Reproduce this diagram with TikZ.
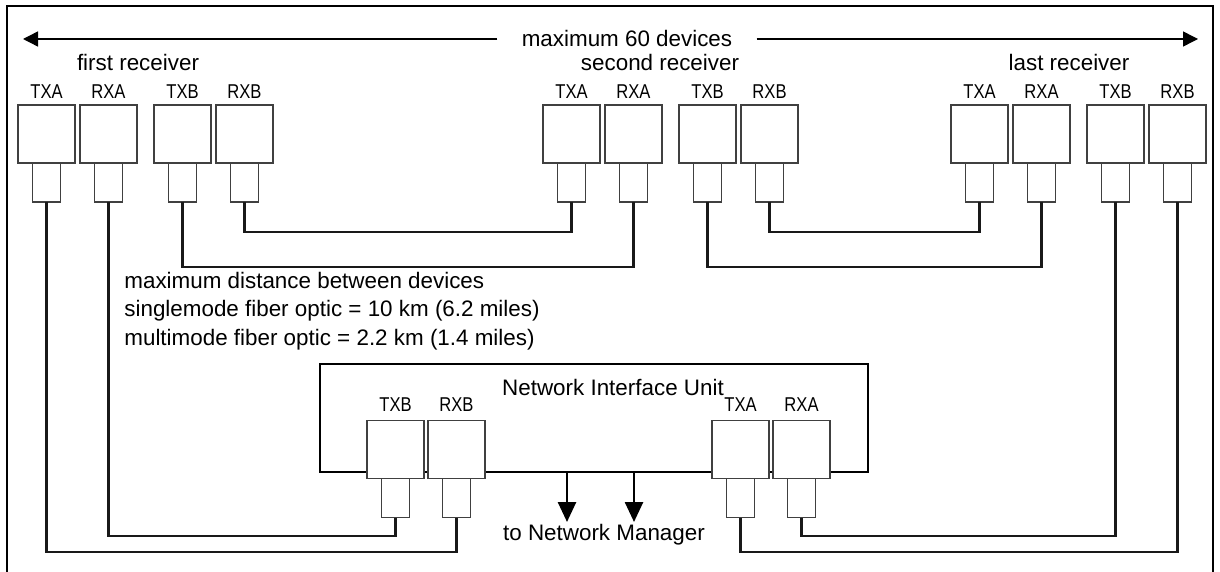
\documentclass[tikz,border=0pt]{standalone}
\usepackage{fontspec}
\setmainfont{Liberation Sans}
\newfontfamily\portfont[FakeStretch=0.83]{Liberation Sans}
\usetikzlibrary{positioning,arrows.meta}

\tikzset{
  port/.style={draw=black!75,line width=0.7pt,fill=white,minimum width=28.5pt,minimum height=29pt,inner sep=0pt,outer sep=0pt},
  plug/.style={draw=black!75,line width=0.7pt,fill=white,minimum width=14pt,minimum height=19.5pt,inner sep=0pt,outer sep=0pt},
  portlbl/.style={font=\portfont\fontsize{10}{12}\selectfont,inner sep=0pt},
  txt/.style={font=\fontsize{11.2}{14.3}\selectfont,inner sep=0pt},
  cable/.style={line width=1.2pt,black!90},
  niubox/.style={draw,line width=1.3pt,minimum width=274pt,minimum height=54pt,inner sep=0pt},
  spanarrow/.style={line width=0.7pt,-{Triangle[length=7.5pt,width=7.5pt]}},
  mgrarrow/.style={line width=1.3pt,-{Triangle[length=10pt,width=9pt]}}
}

\begin{document}
\begin{tikzpicture}[x=0.5pt,y=-0.5pt]
  \useasboundingbox (0,0) rectangle (1220,572);
  % frame
  \draw[line width=0.8pt] (7,572) -- (7,6) -- (1213,6) -- (1213,572);

  % span of the chain
  \node[txt,inner xsep=12pt] (span) at (627,38) {maximum 60 devices};
  \coordinate (spanL) at (23,39);
  \coordinate (spanR) at (1198,39);
  \draw[spanarrow] (span.west |- spanL) -- (spanL);
  \draw[spanarrow] (span.east |- spanR) -- (spanR);

  % receivers
  \node[txt] (r1name) at (138,62) {first receiver};
  \node[txt] (r2name) at (660,62) {second receiver};
  \node[txt] (r3name) at (1069,62) {last receiver};
  \foreach \r/\x in {r1/18, r2/543, r3/951} {
    \foreach \p/\dx in {TXA/0, RXA/62, TXB/136, RXB/198} {
      \node[port,label={[portlbl,label distance=3pt]above:\p}] (\r-\p) at (\x+\dx+28.5,134) {};
      \node[plug,below=0pt of \r-\p] (\r-\p-p) {};
    }
  }

  % network interface unit
  \node[niubox] (niu) at (594,418) {};
  \node[txt] (niuname) at (613,387) {Network Interface Unit};
  \foreach \p/\x in {TXB/367, RXB/428, TXA/712, RXA/773} {
    \node[port,label={[portlbl,label distance=4.5pt]above:\p}] (n-\p) at (\x+28.5,449.5) {};
    \node[plug,below=0pt of n-\p] (n-\p-p) {};
  }
  \coordinate (mgrA) at (567,522);
  \coordinate (mgrB) at (634,522);
  \draw[mgrarrow] (niu.south -| mgrA) -- (mgrA);
  \draw[mgrarrow] (niu.south -| mgrB) -- (mgrB);
  \node[txt] (mgr) at (604,535) {to Network Manager};

  % distances
  \node[txt,anchor=west,align=left] (dist) at (124,311)
    {maximum distance between devices\\
     singlemode fiber optic = 10 km (6.2 miles)\\
     multimode fiber optic = 2.2 km (1.4 miles)};

  % fiber runs
  \coordinate (hiA) at (0,232);
  \coordinate (hiB) at (0,267);
  \coordinate (loA) at (0,536);
  \coordinate (loB) at (0,552);
  \draw[cable] (r1-RXB-p.south) |- (hiA -| r2-TXA-p.south) -- (r2-TXA-p.south);
  \draw[cable] (r1-TXB-p.south) |- (hiB -| r2-RXA-p.south) -- (r2-RXA-p.south);
  \draw[cable] (r2-RXB-p.south) |- (hiA -| r3-TXA-p.south) -- (r3-TXA-p.south);
  \draw[cable] (r2-TXB-p.south) |- (hiB -| r3-RXA-p.south) -- (r3-RXA-p.south);
  \draw[cable] (r1-RXA-p.south) |- (loA -| n-TXB-p.south) -- (n-TXB-p.south);
  \draw[cable] (r1-TXA-p.south) |- (loB -| n-RXB-p.south) -- (n-RXB-p.south);
  \draw[cable] (n-RXA-p.south) |- (loA -| r3-TXB-p.south) -- (r3-TXB-p.south);
  \draw[cable] (n-TXA-p.south) |- (loB -| r3-RXB-p.south) -- (r3-RXB-p.south);
\end{tikzpicture}
\end{document}
